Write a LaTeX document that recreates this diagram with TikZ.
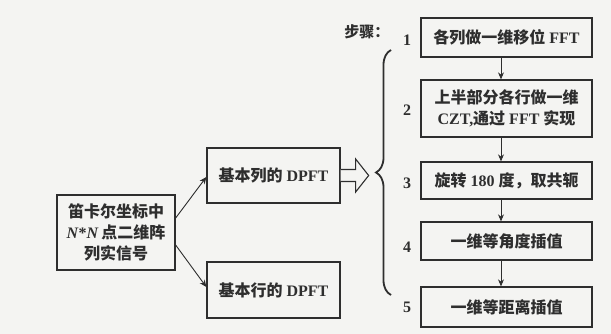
\documentclass[tikz,border=0pt]{standalone}
\usepackage{fontspec}
\setmainfont{Liberation Serif}
\newfontfamily\cjk{Noto Sans CJK SC}
\usetikzlibrary{arrows.meta,decorations.pathreplacing,calc}
\definecolor{ink}{HTML}{2E2E2E}
\definecolor{bg}{HTML}{F4F4F2}
\newcommand{\zh}[1]{{\cjk\bfseries #1}}
\tikzset{
  box/.style={draw=ink,line width=1.3pt,fill=bg,text=ink,inner sep=0pt,align=center,
    font=\fontsize{16}{21}\selectfont\bfseries},
  arr/.style={draw=ink,line width=0.9pt,-{Stealth[length=7pt,width=6pt]}},
  num/.style={text=ink,font=\fontsize{16}{18}\selectfont\bfseries},
}
\begin{document}
\begin{tikzpicture}[x=1pt,y=-1pt]
\useasboundingbox[fill=bg] (0,0) rectangle (611,334);
% left
\node[box,minimum width=118pt,minimum height=75pt] (lft) at (116,232.5)
  {\zh{笛卡尔坐标中}\\\textit{N}*\textit{N}\,\zh{点二维阵}\\\zh{列实信号}};
\node[box,minimum width=133pt,minimum height=55pt] (col) at (273.5,175.5) {\zh{基本列的} DPFT};
\node[box,minimum width=133pt,minimum height=56pt] (row) at (273.5,290) {\zh{基本行的} DPFT};
\draw[arr] ($(lft.east)+(0,-14.5)$) -- ($(col.west)+(0,1.5)$);
\draw[arr] ($(lft.east)+(0,12.5)$) -- ($(row.west)+(0,-3)$);
% hollow arrow
\draw[ink,line width=1.1pt,line join=miter,fill=bg] ($(col.east)+(0,-6)$) -- ++(15,0) -- ++(0,-10.5)
  -- ($(col.east)+(28,0)$) -- ($(col.east)+(15,16.5)$) -- ++(0,-10.5) -- ($(col.east)+(0,6)$);
% brace
\coordinate (bb) at (391,295);
\coordinate (bt) at (391,50);
\draw[ink,line width=1.8pt,decorate,decoration={brace,amplitude=15pt}] (bb) -- (bt);
% steps
\node[text=ink,anchor=east,font=\fontsize{15}{18}\selectfont] (steps) at (393,32) {\zh{步骤：}};
\node[box,minimum width=171pt,minimum height=39pt] (b1) at (506.5,37.5) {\zh{各列做一维移位} FFT};
\node[box,minimum width=171pt,minimum height=57pt] (b2) at (506.5,108.5) {\zh{上半部分各行做一维}\\CZT,\zh{通过} FFT \zh{实现}};
\node[box,minimum width=171pt,minimum height=37pt] (b3) at (506.5,180.5) {\zh{旋转} 180 \zh{度，取共轭}};
\node[box,minimum width=171pt,minimum height=38pt] (b4) at (506.5,241) {\zh{一维等角度插值}};
\node[box,minimum width=171pt,minimum height=40pt] (b5) at (506.5,307) {\zh{一维等距离插值}};
\foreach \a/\b in {b1/b2,b2/b3,b3/b4,b4/b5}
  \draw[arr] ([xshift=-5.5pt]\a.south) -- ([xshift=-5.5pt]\b.north);
\node[num] (n1) at (407,40) {1};
\node[num] (n2) at (407,110) {2};
\node[num] (n3) at (407,183) {3};
\node[num] (n4) at (407,247) {4};
\node[num] (n5) at (407,307) {5};
\end{tikzpicture}
\end{document}
